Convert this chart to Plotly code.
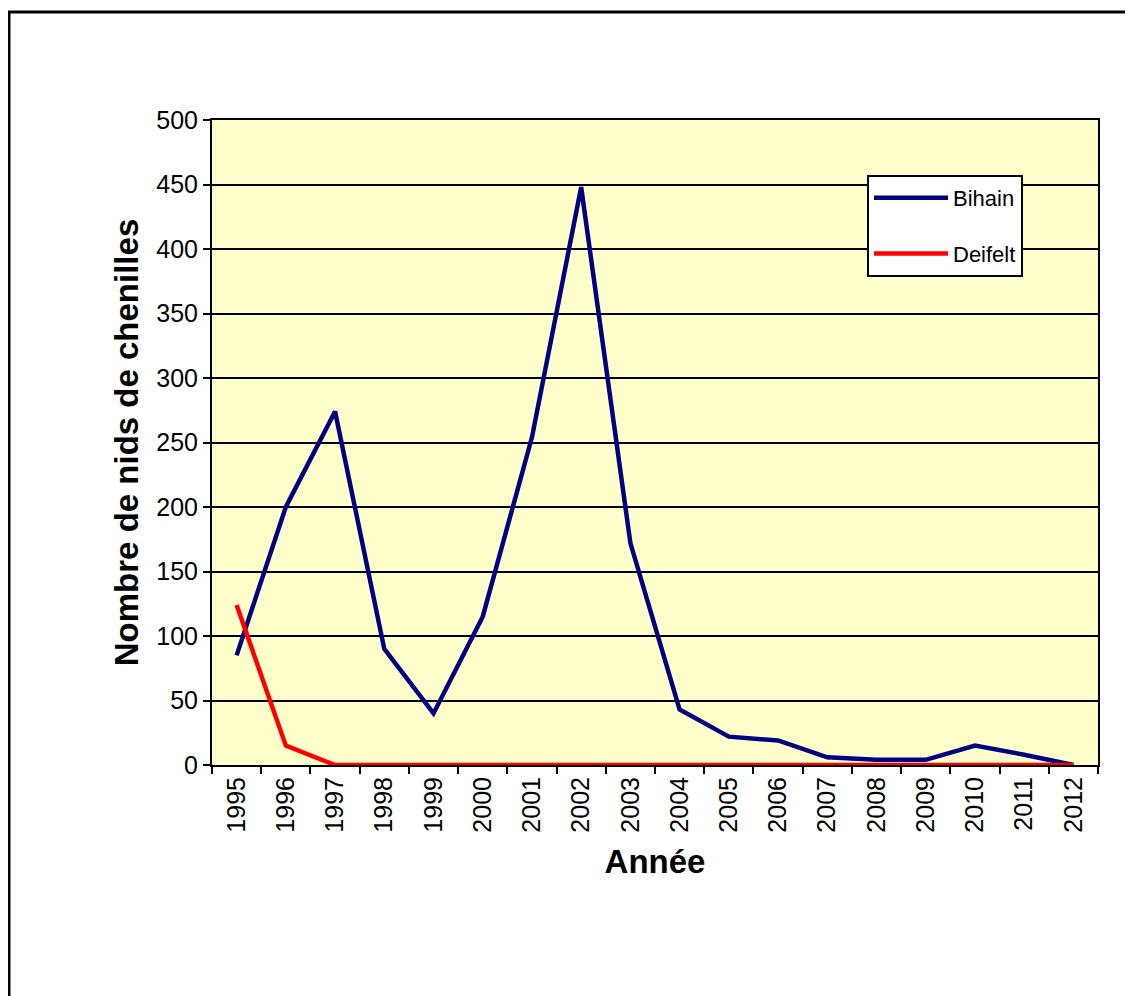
import plotly.graph_objects as go

years = [str(y) for y in range(1995, 2013)]
bihain = [85, 200, 274, 90, 40, 115, 254, 448, 172, 43, 22, 19, 6, 4, 4, 15, 8, 0]
deifelt = [124, 15, 0, 0, 0, 0, 0, 0, 0, 0, 0, 0, 0, 0, 0, 0, 0, 0]

W, H = 1133, 996
OFF = 6  # page offset
L, R, T, B = 210 - OFF, W - (1098 - 8), 119 - 7, H - (765 - 8)
pw, ph = W - L - R, H - T - B

def px(x):
    return (x - OFF - L) / pw

def py(y):
    return 1 - (y - 7 - T) / ph

fig = go.Figure()
fig.add_trace(go.Scatter(x=years, y=bihain, name="Bihain", mode="lines",
                         line=dict(color="#000080", width=4.5), legendgroup="a"))
fig.add_trace(go.Scatter(x=years, y=deifelt, name="Deifelt", mode="lines",
                         line=dict(color="#FF0000", width=4.5), legendgroup="b"))

font = "Liberation Sans, Arial, sans-serif"
fig.update_layout(
    width=W, height=H,
    margin=dict(l=L, r=R, t=T, b=B, autoexpand=False),
    paper_bgcolor="white",
    plot_bgcolor="#FFFFCC",
    font=dict(family=font, color="black"),
    showlegend=True,
    legend=dict(x=px(865), y=py(174), xanchor="left", yanchor="top",
                bgcolor="white", bordercolor="black", borderwidth=2,
                font=dict(size=22, family=font), tracegroupgap=24,
                traceorder="grouped", itemwidth=74),
    xaxis=dict(type="category", tickson="boundaries", ticks="outside", ticklen=7,
               tickwidth=2, tickcolor="black", tickangle=-90,
               tickfont=dict(size=25, family=font), showgrid=False,
               showline=True, linecolor="black", linewidth=2, mirror=True,
               title=dict(text="<b>Année</b>", font=dict(size=33, family=font), standoff=18),
               range=[-0.5, 17.5]),
    yaxis=dict(range=[0, 500], dtick=50, ticks="outside", ticklen=7, tickwidth=2,
               tickcolor="black", tickfont=dict(size=25, family=font),
               showgrid=True, gridcolor="black", gridwidth=2,
               showline=True, linecolor="black", linewidth=2, mirror=True,
               zeroline=False,
               title=dict(text="<b>Nombre de nids de chenilles</b>",
                          font=dict(size=33, family=font), standoff=8)),
    shapes=[dict(type="rect", xref="paper", yref="paper",
                 x0=px(7), x1=px(1150), y0=py(1010), y1=py(11),
                 line=dict(color="black", width=3), fillcolor="rgba(0,0,0,0)",
                 layer="below")],
)

fig.write_html("out.html")
